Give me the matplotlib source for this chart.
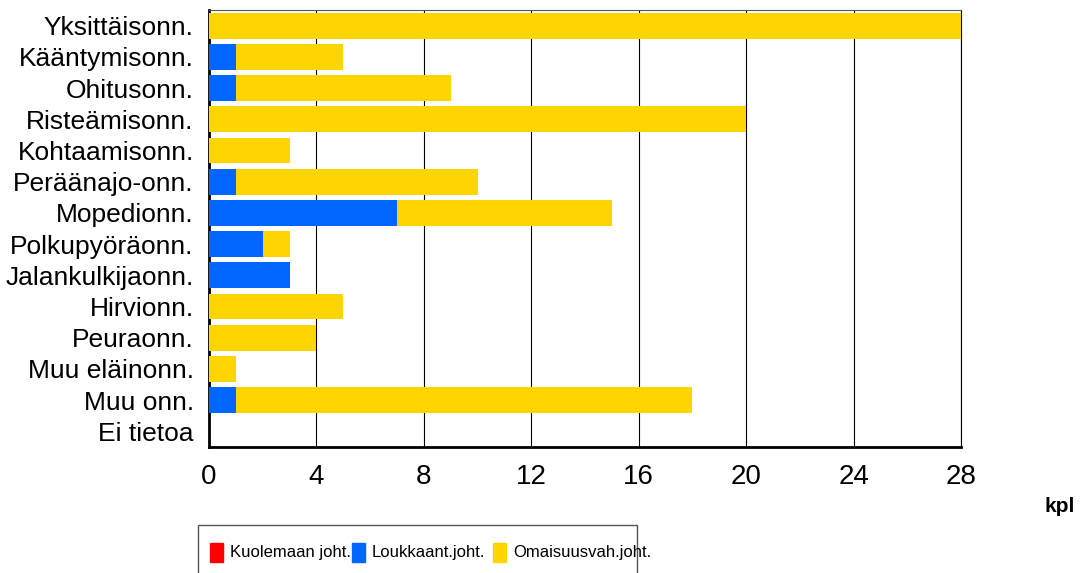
import matplotlib.pyplot as plt
import numpy as np
from matplotlib.patches import Rectangle

plt.rcParams['font.family'] = ['Liberation Sans', 'DejaVu Sans']

categories = ['Yksittäisonn.', 'Kääntymisonn.', 'Ohitusonn.', 'Risteämisonn.',
              'Kohtaamisonn.', 'Peräänajo-onn.', 'Mopedionn.', 'Polkupyöräonn.',
              'Jalankulkijaonn.', 'Hirvionn.', 'Peuraonn.', 'Muu eläinonn.',
              'Muu onn.', 'Ei tietoa']
kuolemaan = [0, 0, 0, 0, 0, 0, 0, 0, 0, 0, 0, 0, 0, 0]
loukkaant = [0, 1, 1, 0, 0, 1, 7, 2, 3, 0, 0, 0, 1, 0]
omaisuus = [28, 4, 8, 20, 3, 9, 8, 1, 0, 5, 4, 1, 17, 0]
xticks = [0, 4, 8, 12, 16, 20, 24, 28]
legend_labels = ['Kuolemaan joht.', 'Loukkaant.joht.', 'Omaisuusvah.joht.']

red = '#ff0000'
blue = '#0066ff'
yellow = '#ffd500'
colors = [red, blue, yellow]

W, H = 1086, 573
fig = plt.figure(figsize=(W/100, H/100), dpi=100)
ax = fig.add_axes([209/W, 1 - 447/H, (961-209)/W, (447-10)/H])

y = np.arange(len(categories))
k = np.array(kuolemaan)
l = np.array(loukkaant)
o = np.array(omaisuus)
h = 0.83
ax.barh(y, k, height=h, color=red, zorder=3)
ax.barh(y, l, left=k, height=h, color=blue, zorder=3)
ax.barh(y, o, left=k + l, height=h, color=yellow, zorder=3)

ax.set_ylim(len(categories) - 0.5, -0.5)
ax.set_xlim(0, 28)
ax.set_yticks(y)
ax.set_yticklabels(categories, fontsize=19)
ax.set_xticks(xticks)
ax.set_xticklabels([str(t) for t in xticks], fontsize=20)
ax.tick_params(axis='y', length=0, pad=11)
ax.tick_params(axis='x', length=0, pad=12)
ax.grid(axis='x', color='black', linewidth=0.8, zorder=0)
ax.axvline(28, color='black', linewidth=0.8, zorder=0, clip_on=False)
ax.spines['right'].set_visible(False)
ax.spines['top'].set_linewidth(0.8)
ax.spines['top'].set_color('#555555')
ax.spines['left'].set_linewidth(2)
ax.spines['bottom'].set_linewidth(2)

fig.text(1060/W, 1 - 507/H, 'kpl', fontsize=15, fontweight='bold',
         ha='center', va='center')

# legend box drawn by hand
fig.patches.append(Rectangle((198/W, 1 - 580/H), (637-198)/W, 55/H,
                             transform=fig.transFigure, fill=False,
                             edgecolor='#555555', linewidth=1))
patch_x = [210, 352, 493]
for px, c, lab in zip(patch_x, colors, legend_labels):
    fig.patches.append(Rectangle((px/W, 1 - 562/H), 13/W, 19/H,
                                 transform=fig.transFigure, color=c))
    fig.text((px + 20)/W, 1 - 552/H, lab, fontsize=12,
             ha='left', va='center')

fig.savefig('out.png', dpi=100)
